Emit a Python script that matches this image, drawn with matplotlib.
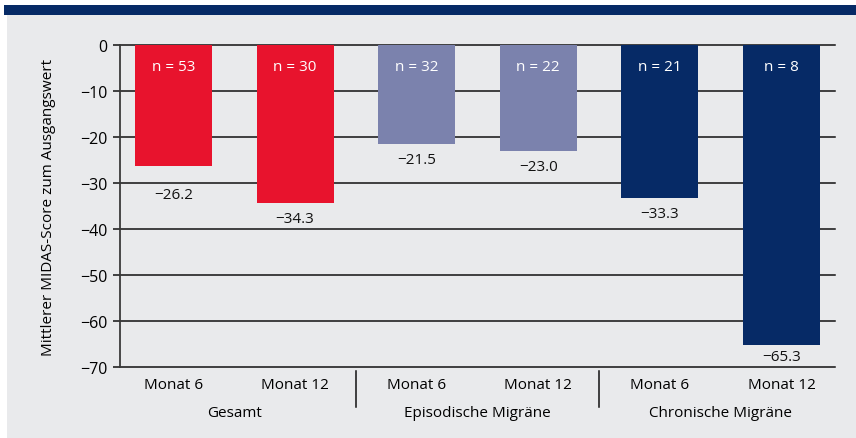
import matplotlib
matplotlib.use("Agg")
import matplotlib.pyplot as plt
import matplotlib.transforms as mtransforms
from matplotlib import font_manager
from matplotlib.patches import Rectangle
from matplotlib.lines import Line2D

# ---- data ----
groups = ["Gesamt", "Episodische Migräne", "Chronische Migräne"]
periods = ["Monat 6", "Monat 12"]
values = [-26.2, -34.3, -21.5, -23.0, -33.3, -65.3]
n_counts = [53, 30, 32, 22, 21, 8]
y_ticks = [0, -10, -20, -30, -40, -50, -60, -70]
y_label = "Mittlerer MIDAS-Score zum Ausgangswert"

# ---- style ----
group_colors = ["#e8132d", "#7b82ad", "#062a66"]
bg = "#e9eaec"
navy = "#062a66"
label_offsets_px = [-21, -8, -8, -8, -8, -4]

names = {f.name for f in font_manager.fontManager.ttflist}
fam = ["Liberation Sans Narrow"] if "Liberation Sans Narrow" in names else []
fam += ["Open Sans", "DejaVu Sans"]
plt.rcParams["font.family"] = fam
fs = 11

W, H = 856, 439
fig = plt.figure(figsize=(W / 100, H / 100), dpi=100)
fig.patch.set_facecolor("white")

def fx(px):
    return px / W

def fy(py):
    return 1 - py / H

# background axes with gray panel and top band
bgax = fig.add_axes([0, 0, 1, 1], zorder=0)
bgax.set_xlim(0, 1)
bgax.set_ylim(0, 1)
bgax.axis("off")
bgax.add_patch(Rectangle((fx(7), 0), 1 - fx(7), fy(16), facecolor=bg, edgecolor="none"))
bgax.add_patch(Rectangle((fx(4), fy(16)), 1 - fx(4), fy(6) - fy(16), facecolor=navy, edgecolor="none"))

ax = fig.add_axes([fx(120), fy(368), fx(835) - fx(120), fy(46) - fy(368)], zorder=2)
ax.set_facecolor("none")

x = list(range(len(values)))
colors = [group_colors[i // 2] for i in x]
ax.bar(x, values, width=0.633, color=colors, zorder=3)

ax.set_xlim(-0.44, 5.44)
ax.set_ylim(-70, 0)

for t in y_ticks:
    ax.axhline(t, color="#111111", lw=1.1, zorder=1, clip_on=False)

for s in ["top", "right", "bottom"]:
    ax.spines[s].set_visible(False)
ax.spines["left"].set_color("#3a3a3a")
ax.spines["left"].set_linewidth(1.3)
ax.spines["left"].set_zorder(4)

ax.set_yticks(y_ticks)
ax.set_yticklabels([str(t).replace("-", "\u2212") for t in y_ticks], fontsize=fs + 0.5)
ax.tick_params(axis="y", length=5, width=1.1, color="#111111", pad=4)
ax.set_xticks(x)
ax.set_xticklabels([periods[i % 2] for i in x], fontsize=fs)
ax.tick_params(axis="x", length=0, pad=7)

ax.set_ylabel(y_label, fontsize=fs)
ax.yaxis.set_label_coords((56 - 120) / 715, 0.5)

for i, (v, n) in enumerate(zip(values, n_counts)):
    ax.annotate(f"n = {n}", (i, 0), xytext=(0, -10), textcoords="offset points",
                ha="center", va="top", color="white", fontsize=fs, zorder=5)
    ax.annotate(f"{v:.1f}".replace("-", "\u2212"), (i, v),
                xytext=(0, label_offsets_px[i] * 0.72), textcoords="offset points",
                ha="center", va="top", color="#111111", fontsize=fs, zorder=5)

blend = mtransforms.blended_transform_factory(ax.transData, fig.transFigure)
for g, name in enumerate(groups):
    ax.text(2 * g + 0.5, fy(414), name, transform=blend,
            ha="center", va="center", fontsize=fs)
for sep in [1.5, 3.5]:
    ax.add_line(Line2D([sep, sep], [fy(372), fy(408)], transform=blend,
                       color="#111111", lw=1.1, clip_on=False))

fig.savefig("out.png", dpi=100, facecolor=fig.get_facecolor())
